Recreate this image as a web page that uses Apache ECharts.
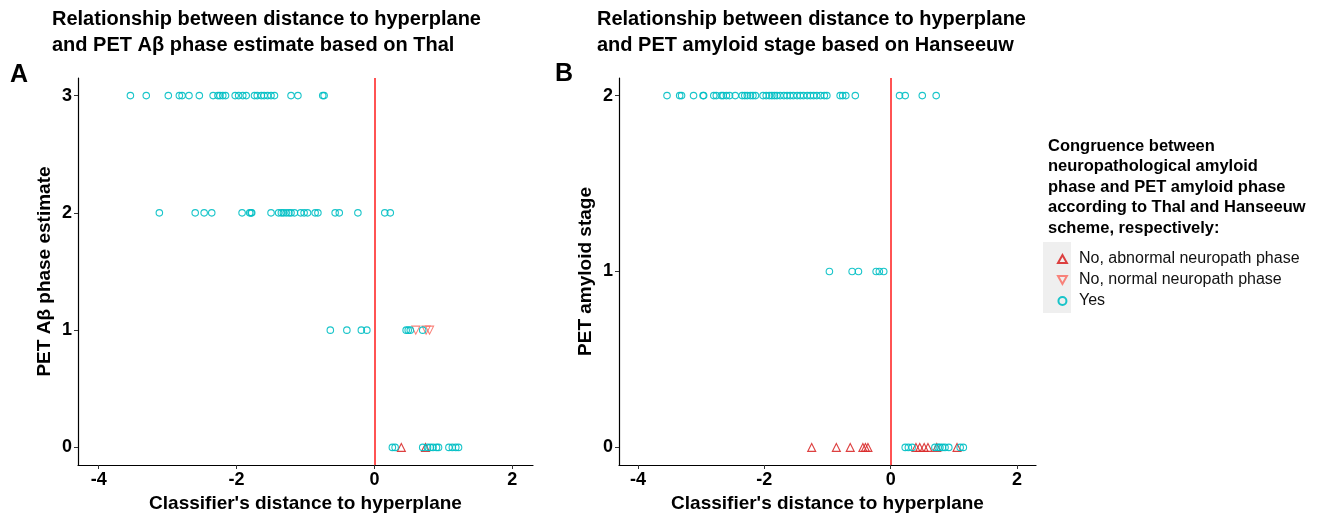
<!DOCTYPE html>
<html>
<head>
<meta charset="utf-8">
<script src="https://cdn.jsdelivr.net/npm/echarts@6/dist/echarts.min.js"></script>
<style>
  html, body { margin: 0; padding: 0; background: #fff; }
  #chart { width: 1322px; height: 518px; }
</style>
</head>
<body>
<div id="chart"></div>
<script>
// distance to hyperplane, per panel / group / stage
var thalYes3 = [-3.54, -3.31, -2.99, -2.83, -2.79, -2.69, -2.54, -2.34, -2.27, -2.24, -2.20, -2.16, -2.02, -1.97,
  -1.91, -1.86, -1.74, -1.70, -1.64, -1.60, -1.55, -1.50, -1.45, -1.21, -1.11, -0.75, -0.73];
var thalYes2 = [-3.12, -2.60, -2.47, -2.36, -1.92, -1.81, -1.79, -1.78, -1.50, -1.39, -1.35, -1.32, -1.28, -1.24,
  -1.21, -1.16, -1.07, -1.02, -0.97, -0.86, -0.82, -0.57, -0.51, -0.24, 0.15, 0.23];
var thalYes1 = [-0.64, -0.40, -0.19, -0.11, 0.46, 0.49, 0.52, 0.70];
var thalYes0 = [0.26, 0.30, 0.70, 0.77, 0.81, 0.85, 0.90, 0.93, 1.08, 1.13, 1.18, 1.22];
var thalAbnormal0 = [0.39, 0.74];
var thalNormal1 = [0.60, 0.75, 0.80];

var hanYes2 = [-3.54, -3.34, -3.31, -3.12, -2.97, -2.96, -2.80, -2.76, -2.68, -2.65, -2.60, -2.55, -2.46, -2.35,
  -2.31, -2.27, -2.22, -2.18, -2.14, -2.02, -1.97, -1.92, -1.88, -1.84, -1.80, -1.75, -1.69, -1.64, -1.59,
  -1.54, -1.48, -1.43, -1.38, -1.32, -1.27, -1.22, -1.17, -1.11, -1.05, -1.01, -0.80, -0.76, -0.71, -0.56,
  0.14, 0.23, 0.50, 0.72];
var hanYes1 = [-0.97, -0.61, -0.51, -0.23, -0.18, -0.11];
var hanYes0 = [0.23, 0.28, 0.34, 0.70, 0.75, 0.78, 0.82, 0.86, 0.92, 1.10, 1.15];
var hanAbnormal0 = [-1.25, -0.86, -0.64, -0.44, -0.40, -0.36, 0.40, 0.46, 0.53, 0.59, 0.73, 1.05];

var xTicks = [-4, -2, 0, 2];
var thalTicks = [0, 1, 2, 3];
var hanTicks = [0, 1, 2];

var groupNames = ["No, abnormal neuropath phase", "No, normal neuropath phase", "Yes"];
var colAbn = "#D92B2B", colNorm = "#F8766D", colYes = "#00BFC4";
var font = "'Liberation Sans', Arial, sans-serif";

function pts(xs, y) {
  return xs.map(function (x) { return [x, y]; });
}

function xAxisOpt(idx) {
  return {
    gridIndex: idx, type: "value", min: -4.3, max: 2.3,
    name: "Classifier's distance to hyperplane", nameLocation: "middle", nameGap: 29,
    nameTextStyle: { fontFamily: font, fontSize: 19, fontWeight: "bold", color: "#000" },
    axisLine: { show: true, onZero: false, lineStyle: { color: "#000", width: 1.2 } },
    axisTick: { show: true, length: 4, lineStyle: { color: "#333" }, customValues: xTicks },
    axisLabel: { fontFamily: font, fontSize: 18, fontWeight: "bold", color: "#000", margin: 6, customValues: xTicks },
    splitLine: { show: false }
  };
}

function yAxisOpt(idx, name, min, max, ticks) {
  return {
    gridIndex: idx, type: "value", min: min, max: max,
    name: name, nameLocation: "middle", nameGap: 24, nameRotate: 90,
    nameTextStyle: { fontFamily: font, fontSize: 19, fontWeight: "bold", color: "#000" },
    axisLine: { show: true, onZero: false, lineStyle: { color: "#000", width: 1.2 } },
    axisTick: { show: true, length: 4, lineStyle: { color: "#333" }, customValues: ticks },
    axisLabel: { fontFamily: font, fontSize: 18, fontWeight: "bold", color: "#000", margin: 6, customValues: ticks },
    splitLine: { show: false }
  };
}

function mark(color, rotate, size) {
  return {
    type: "scatter",
    symbol: rotate === null ? "circle" : "triangle",
    symbolRotate: rotate === null ? 0 : rotate,
    symbolSize: size,
    itemStyle: { color: "rgba(255,255,255,0)", borderColor: color, borderWidth: 1.1, opacity: 0.9 },
    emphasis: { disabled: true }
  };
}

var zeroLine = {
  silent: true, symbol: "none", label: { show: false },
  lineStyle: { color: "#FF1A1A", width: 1.5, type: "solid" },
  data: [{ xAxis: 0 }]
};

var series = [];
// panel A
series.push(Object.assign(mark(colAbn, 0, 8), { name: groupNames[0], xAxisIndex: 0, yAxisIndex: 0,
  data: pts(thalAbnormal0, 0) }));
series.push(Object.assign(mark(colNorm, 180, 8), { name: groupNames[1], xAxisIndex: 0, yAxisIndex: 0,
  data: pts(thalNormal1, 1) }));
series.push(Object.assign(mark(colYes, null, 6.5), { name: groupNames[2], xAxisIndex: 0, yAxisIndex: 0,
  data: pts(thalYes3, 3).concat(pts(thalYes2, 2), pts(thalYes1, 1), pts(thalYes0, 0)), markLine: zeroLine }));
// panel B
series.push(Object.assign(mark(colAbn, 0, 8), { name: groupNames[0], xAxisIndex: 1, yAxisIndex: 1,
  data: pts(hanAbnormal0, 0) }));
series.push(Object.assign(mark(colYes, null, 6.5), { name: groupNames[2], xAxisIndex: 1, yAxisIndex: 1,
  data: pts(hanYes2, 2).concat(pts(hanYes1, 1), pts(hanYes0, 0)), markLine: zeroLine }));

var chart = echarts.init(document.getElementById("chart"));
chart.setOption({
  animation: false,
  backgroundColor: "#fff",
  textStyle: { fontFamily: font },
  title: [
    { text: "Relationship between distance to hyperplane\nand PET A\u03b2 phase estimate based on Thal", left: 52, top: 6, padding: 0,
      textStyle: { fontFamily: font, fontSize: 20, fontWeight: "bold", color: "#000", lineHeight: 26 } },
    { text: "Relationship between distance to hyperplane\nand PET amyloid stage based on Hanseeuw", left: 597, top: 6, padding: 0,
      textStyle: { fontFamily: font, fontSize: 20, fontWeight: "bold", color: "#000", lineHeight: 26 } }
  ],
  grid: [
    { left: 78, top: 78, width: 455, height: 392 },
    { left: 619, top: 78, width: 417, height: 392 }
  ],
  xAxis: [xAxisOpt(0), xAxisOpt(1)],
  yAxis: [
    yAxisOpt(0, "PET A\u03b2 phase estimate", -0.15, 3.15, thalTicks),
    yAxisOpt(1, "PET amyloid stage", -0.1, 2.1, hanTicks)
  ],
  legend: {
    data: [
      { name: groupNames[0], icon: "path://M5,0 L10,9 L0,9 Z" },
      { name: groupNames[1], icon: "path://M0,0 L10,0 L5,9 Z" },
      { name: groupNames[2], icon: "circle" }
    ],
    orient: "vertical", left: 1052, top: 246,
    itemWidth: 9, itemHeight: 8, itemGap: 5,
    selectedMode: false,
    textStyle: { fontFamily: font, fontSize: 16, color: "#111", padding: [0, 0, 0, 7] }
  },
  graphic: [
    { type: "text", left: 10, top: 63, style: { text: "A", font: "bold 25px " + font, fill: "#000" } },
    { type: "text", left: 555, top: 62, style: { text: "B", font: "bold 25px " + font, fill: "#000" } },
    { type: "text", left: 1048, top: 136, style: {
      text: "Congruence between\nneuropathological amyloid\nphase and PET amyloid phase\naccording to Thal and Hanseeuw\nscheme, respectively:",
      font: "bold 16.5px " + font, lineHeight: 20.5, fill: "#000" } },
    { type: "rect", left: 1043, top: 242, z: -1, shape: { width: 28, height: 71 }, style: { fill: "#EFEFEF" } }
  ],
  series: series
});
</script>
</body>
</html>
